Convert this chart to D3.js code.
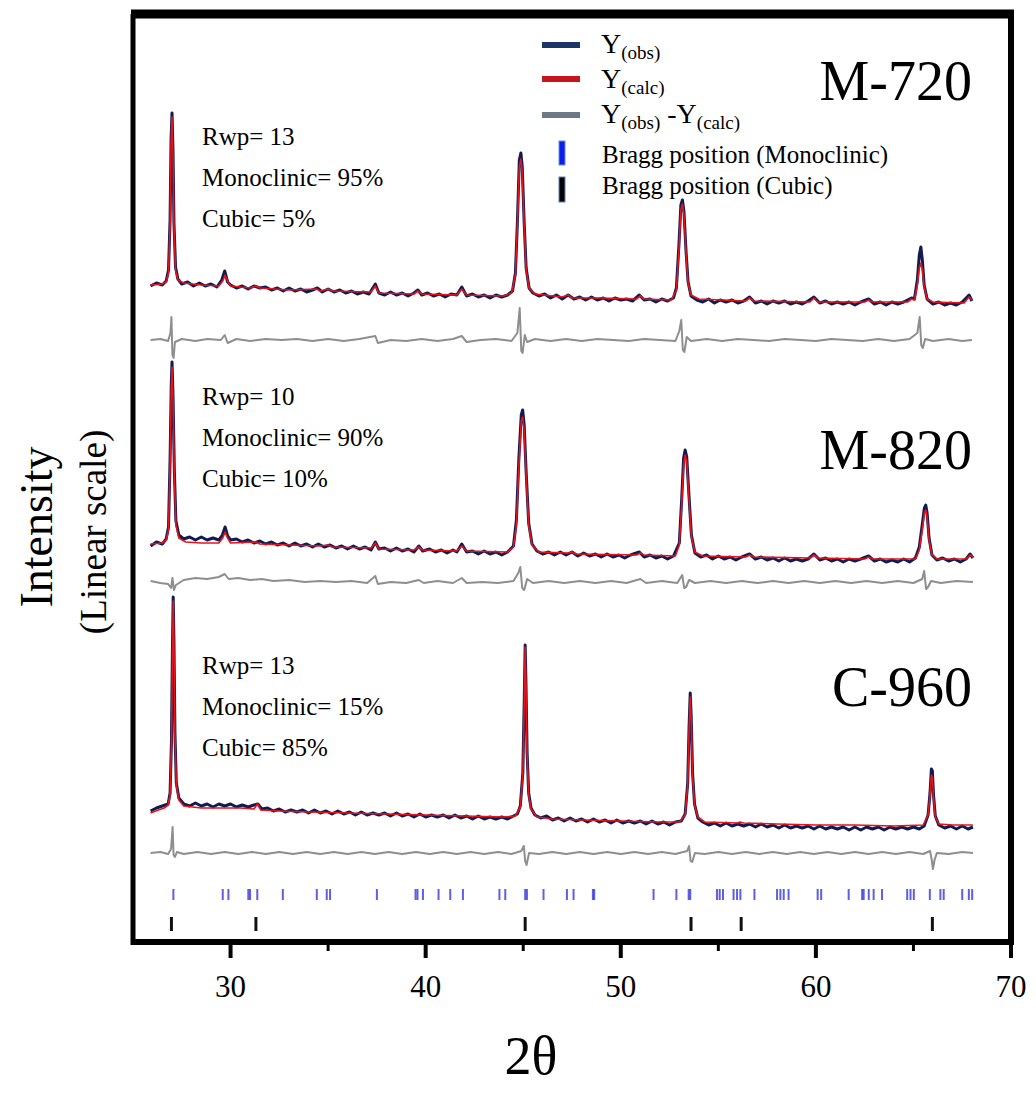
<!DOCTYPE html>
<html>
<head>
<meta charset="utf-8">
<script src="https://cdn.jsdelivr.net/npm/d3@7"></script>
<style>
  body { margin: 0; background: #fff; }
  svg text { font-family: 'Liberation Serif', 'Times New Roman', serif; fill: #000; }
</style>
</head>
<body>
<script>
// pattern values are stacked intensities (a.u.)
const obsM720 = [[25.9,659],[26.2,662],[26.5,660],[26.7,664],[26.82,675],[26.9,725],[26.95,805],[27.0,832],[27.05,795],[27.1,722],[27.18,678],[27.3,666],[27.5,661],[27.8,663],[28.1,659],[28.4,662],[28.7,659],[29.0,661],[29.3,658],[29.55,665],[29.7,674],[29.85,663],[30.0,660],[30.3,657],[30.6,659],[30.9,656],[31.2,659],[31.5,657],[31.8,658],[32.1,655],[32.4,657],[32.7,654],[33.0,657],[33.3,654],[33.6,656],[33.9,653],[34.2,655],[34.45,657],[34.7,653],[35.0,656],[35.3,653],[35.6,655],[35.9,652],[36.2,654],[36.5,651],[36.8,653],[37.1,651],[37.42,661],[37.6,652],[37.9,650],[38.2,653],[38.5,650],[38.8,652],[39.1,649],[39.4,652],[39.6,655],[39.8,650],[40.1,652],[40.4,649],[40.7,651],[41.0,648],[41.3,651],[41.6,650],[41.85,658],[42.1,649],[42.4,651],[42.7,648],[43.0,650],[43.3,647],[43.6,650],[43.9,648],[44.2,650],[44.45,654],[44.6,672],[44.7,722],[44.8,785],[44.88,792],[44.95,778],[45.05,722],[45.15,677],[45.3,657],[45.5,652],[45.8,649],[46.1,651],[46.4,647],[46.7,650],[47.0,646],[47.3,650],[47.6,646],[47.9,648],[48.2,645],[48.5,648],[48.8,645],[49.1,647],[49.4,644],[49.7,647],[50.0,645],[50.3,646],[50.6,644],[50.95,650],[51.2,645],[51.5,646],[51.8,643],[52.1,646],[52.4,644],[52.7,647],[52.85,657],[52.98,700],[53.08,740],[53.16,745],[53.24,733],[53.35,692],[53.45,663],[53.6,649],[53.9,645],[54.2,643],[54.5,646],[54.8,642],[55.1,645],[55.4,643],[55.7,645],[56.0,642],[56.3,644],[56.6,648],[56.9,642],[57.2,644],[57.5,641],[57.8,644],[58.1,642],[58.4,644],[58.7,641],[59.0,643],[59.3,641],[59.6,644],[59.9,648],[60.2,642],[60.5,644],[60.8,641],[61.1,643],[61.4,641],[61.7,643],[62.0,640],[62.3,643],[62.7,646],[63.0,641],[63.3,643],[63.6,640],[63.9,643],[64.2,641],[64.5,643],[64.9,647],[65.05,646],[65.2,665],[65.3,690],[65.38,698],[65.46,684],[65.55,660],[65.7,646],[66.0,641],[66.3,643],[66.6,640],[66.9,642],[67.2,640],[67.5,643],[67.85,650],[68.0,644]];
const calcM720 = [[25.9,660],[26.5,661],[26.7,663],[26.82,672],[26.9,720],[26.95,800],[27.0,828],[27.05,790],[27.1,720],[27.18,675],[27.3,665],[27.6,662],[28.5,660],[29.4,659],[29.6,664],[29.72,670],[29.85,664],[30.0,659],[31.0,657],[31.3,659],[31.5,657],[33.0,655],[34.4,656],[34.6,654],[35.0,656],[35.2,654],[37.2,653],[37.42,659],[37.6,652],[39.4,651],[39.6,654],[39.8,651],[41.6,650],[41.85,656],[42.1,650],[44.0,649],[44.4,652],[44.6,670],[44.7,720],[44.8,778],[44.88,786],[44.95,772],[45.05,720],[45.15,675],[45.3,657],[45.6,651],[47.0,648],[47.3,650],[47.5,647],[49.0,647],[50.8,646],[51.0,649],[51.2,646],[52.6,645],[52.85,655],[52.98,695],[53.08,735],[53.16,741],[53.24,730],[53.35,690],[53.45,662],[53.6,650],[54.0,646],[56.4,644],[56.6,647],[56.8,644],[59.7,643],[59.9,647],[60.1,643],[62.5,643],[62.7,645],[62.9,643],[64.7,643],[64.9,646],[65.05,645],[65.2,660],[65.3,677],[65.38,682],[65.46,675],[65.55,658],[65.7,646],[66.0,643],[67.6,642],[67.85,648],[68.0,645]];
const diffM720 = [[25.9,605],[26.4,606],[26.8,604],[26.92,612],[26.97,628],[27.02,590],[27.08,587],[27.15,603],[27.5,606],[28.2,604],[28.8,606],[29.5,605],[29.7,610],[29.85,602],[30.3,606],[31.0,604],[31.8,606],[32.6,605],[33.4,606],[34.2,604],[35.0,606],[35.8,604],[36.6,606],[37.42,609],[37.55,602],[38.2,605],[39.0,604],[39.8,606],[40.6,604],[41.4,606],[41.85,609],[42.1,603],[42.8,605],[43.6,606],[44.4,604],[44.7,612],[44.82,637],[44.9,594],[44.97,592],[45.08,610],[45.2,603],[45.6,606],[46.4,604],[47.2,606],[48.0,604],[48.8,606],[49.6,605],[50.4,604],[51.2,606],[52.0,605],[52.8,604],[53.0,614],[53.1,625],[53.18,595],[53.26,593],[53.38,608],[53.6,604],[54.4,606],[55.2,604],[56.0,606],[56.8,605],[57.6,604],[58.4,606],[59.2,605],[60.0,604],[60.8,606],[61.6,605],[62.4,604],[63.2,606],[64.0,604],[64.8,606],[65.2,612],[65.32,628],[65.4,600],[65.48,597],[65.6,606],[66.0,604],[66.8,606],[67.5,604],[68.0,605]];

const obsM820 = [[25.9,399],[26.2,403],[26.5,401],[26.7,406],[26.82,418],[26.9,485],[26.96,560],[27.0,583],[27.05,550],[27.12,474],[27.2,424],[27.35,410],[27.6,406],[27.9,408],[28.2,405],[28.5,408],[28.8,405],[29.1,407],[29.4,405],[29.58,410],[29.72,418],[29.85,409],[30.0,405],[30.3,406],[30.6,403],[30.9,405],[31.2,402],[31.5,404],[31.8,401],[32.1,403],[32.4,400],[32.7,402],[33.0,399],[33.3,402],[33.6,399],[33.9,401],[34.2,398],[34.5,401],[34.8,398],[35.1,400],[35.4,397],[35.7,399],[36.0,396],[36.3,399],[36.6,396],[36.9,398],[37.2,395],[37.42,403],[37.6,396],[37.9,397],[38.2,394],[38.5,397],[38.8,394],[39.1,396],[39.4,393],[39.65,399],[39.85,394],[40.2,396],[40.5,393],[40.8,395],[41.1,392],[41.4,395],[41.6,393],[41.85,401],[42.1,393],[42.4,394],[42.7,391],[43.0,394],[43.3,391],[43.6,393],[43.9,390],[44.2,393],[44.5,399],[44.65,425],[44.78,488],[44.9,530],[44.97,535],[45.05,520],[45.15,473],[45.28,422],[45.45,401],[45.7,394],[46.0,391],[46.3,393],[46.6,390],[46.9,393],[47.2,390],[47.5,393],[47.8,389],[48.1,392],[48.4,389],[48.7,391],[49.0,388],[49.3,391],[49.6,388],[49.9,390],[50.2,387],[50.5,390],[50.95,393],[51.2,388],[51.5,390],[51.8,387],[52.1,389],[52.4,386],[52.7,389],[53.0,402],[53.12,445],[53.22,487],[53.3,495],[53.38,488],[53.5,448],[53.62,410],[53.8,392],[54.1,388],[54.4,390],[54.7,386],[55.0,389],[55.3,386],[55.6,388],[55.9,385],[56.2,388],[56.6,391],[56.9,386],[57.2,388],[57.5,385],[57.8,387],[58.1,384],[58.4,387],[58.7,384],[59.0,386],[59.3,384],[59.6,386],[59.9,391],[60.2,385],[60.5,387],[60.8,384],[61.1,386],[61.4,383],[61.7,386],[62.0,384],[62.3,386],[62.7,389],[63.0,384],[63.3,386],[63.6,383],[63.9,385],[64.2,383],[64.5,386],[64.8,383],[65.1,387],[65.3,398],[65.45,420],[65.56,437],[65.63,440],[65.7,432],[65.8,407],[65.95,390],[66.2,385],[66.5,387],[66.8,384],[67.1,386],[67.4,383],[67.7,386],[67.9,391],[68.05,387]];
const calcM820 = [[25.9,401],[26.5,402],[26.7,405],[26.82,415],[26.9,480],[26.96,555],[27.0,578],[27.05,545],[27.12,470],[27.2,420],[27.35,407],[27.7,403],[28.5,402],[29.4,402],[29.6,407],[29.72,413],[29.85,407],[30.0,402],[31.3,403],[31.5,401],[33.0,400],[34.5,399],[35.0,400],[35.2,398],[37.2,397],[37.42,402],[37.6,396],[39.4,395],[39.65,398],[39.85,395],[41.6,394],[41.85,399],[42.1,394],[44.2,393],[44.5,398],[44.65,420],[44.78,480],[44.9,524],[44.97,528],[45.05,515],[45.15,470],[45.28,420],[45.45,400],[45.8,393],[47.3,392],[47.5,393],[47.7,391],[50.8,390],[51.0,392],[51.2,390],[52.8,389],[53.0,400],[53.12,440],[53.22,480],[53.3,490],[53.38,484],[53.5,445],[53.62,408],[53.8,393],[54.2,389],[56.4,388],[56.6,390],[56.8,388],[59.7,387],[59.9,390],[60.1,387],[62.5,386],[62.7,388],[62.9,386],[65.1,386],[65.3,395],[65.45,415],[65.56,432],[65.63,435],[65.7,428],[65.8,405],[65.95,390],[66.2,386],[67.7,386],[67.9,390],[68.05,388]];
const diffM820 = [[25.9,364],[26.4,362],[26.8,361],[26.95,357],[27.02,367],[27.1,355],[27.2,360],[27.6,365],[28.2,367],[28.8,366],[29.4,368],[29.7,371],[29.9,366],[30.4,367],[31.0,365],[31.6,366],[32.2,364],[33.0,365],[33.8,363],[34.6,364],[35.4,363],[36.2,364],[37.0,362],[37.42,369],[37.55,361],[38.2,363],[39.0,362],[39.65,365],[39.9,362],[40.6,364],[41.4,362],[41.85,367],[42.1,362],[42.9,363],[43.7,362],[44.5,364],[44.75,372],[44.85,378],[44.95,357],[45.05,355],[45.2,366],[45.5,362],[46.3,364],[47.1,362],[47.9,364],[48.7,362],[49.5,364],[50.3,362],[51.0,366],[51.3,362],[52.1,364],[52.9,362],[53.15,370],[53.25,357],[53.35,358],[53.5,365],[53.8,362],[54.6,364],[55.4,362],[56.2,364],[57.0,362],[57.8,364],[58.6,362],[59.4,364],[60.2,362],[61.0,364],[61.8,362],[62.6,364],[63.4,362],[64.2,364],[65.0,362],[65.45,366],[65.55,374],[65.65,356],[65.75,358],[65.9,364],[66.4,362],[67.2,364],[68.05,363]];

const obsC960 = [[25.9,134],[26.2,137],[26.5,139],[26.8,141],[26.9,152],[26.97,203],[27.02,295],[27.06,348],[27.1,302],[27.15,212],[27.22,162],[27.35,147],[27.6,141],[27.9,139],[28.2,142],[28.5,139],[28.8,141],[29.1,138],[29.4,141],[29.7,139],[30.0,141],[30.3,138],[30.6,140],[30.9,138],[31.2,140],[31.4,141],[31.6,136],[31.9,137],[32.2,134],[32.5,136],[32.8,133],[33.1,135],[33.4,133],[33.7,135],[34.0,132],[34.3,135],[34.6,132],[34.9,134],[35.2,131],[35.5,134],[35.8,131],[36.1,133],[36.4,130],[36.7,133],[37.0,130],[37.3,132],[37.6,130],[37.9,132],[38.2,129],[38.5,132],[38.8,129],[39.1,131],[39.4,128],[39.7,131],[40.0,128],[40.3,130],[40.6,128],[40.9,130],[41.2,127],[41.5,130],[41.8,127],[42.1,129],[42.4,126],[42.7,129],[43.0,126],[43.3,128],[43.6,126],[43.9,128],[44.2,126],[44.5,129],[44.7,131],[44.85,139],[44.98,172],[45.05,242],[45.1,300],[45.14,262],[45.2,192],[45.28,152],[45.4,137],[45.6,130],[45.9,127],[46.2,129],[46.5,125],[46.8,127],[47.1,124],[47.4,127],[47.7,124],[48.0,126],[48.3,123],[48.6,126],[48.9,123],[49.2,125],[49.5,122],[49.8,125],[50.1,122],[50.4,124],[50.7,122],[51.0,124],[51.3,121],[51.6,124],[51.9,121],[52.2,123],[52.5,120],[52.8,123],[53.1,124],[53.3,131],[53.43,162],[53.5,218],[53.56,252],[53.61,228],[53.68,172],[53.78,141],[53.95,127],[54.2,123],[54.5,120],[54.8,122],[55.1,119],[55.4,122],[55.7,119],[56.0,121],[56.3,119],[56.6,121],[56.9,118],[57.2,121],[57.5,118],[57.8,120],[58.1,117],[58.4,120],[58.7,117],[59.0,119],[59.3,117],[59.6,119],[59.9,116],[60.2,119],[60.5,116],[60.8,118],[61.1,116],[61.4,118],[61.7,115],[62.0,118],[62.3,115],[62.6,118],[62.9,116],[63.2,118],[63.5,115],[63.8,118],[64.1,116],[64.4,118],[64.7,116],[65.0,118],[65.3,116],[65.55,119],[65.75,130],[65.85,152],[65.92,176],[65.97,174],[66.03,150],[66.12,129],[66.3,120],[66.6,117],[66.9,119],[67.2,116],[67.5,119],[67.8,116],[68.05,118]];
const calcC960 = [[25.9,132],[26.3,135],[26.6,137],[26.8,140],[26.9,150],[26.97,200],[27.02,290],[27.06,344],[27.1,300],[27.15,210],[27.22,160],[27.35,145],[27.6,139],[28.5,137],[29.5,137],[30.5,137],[31.2,136],[31.38,141],[31.55,135],[32.5,134],[34.0,133],[36.0,132],[38.0,131],[40.0,130],[42.0,129],[44.0,128],[44.6,129],[44.85,138],[44.98,170],[45.05,240],[45.1,298],[45.14,260],[45.2,190],[45.28,150],[45.4,136],[45.7,128],[46.5,126],[48.0,125],[50.0,124],[52.0,123],[53.0,123],[53.3,130],[53.43,160],[53.5,215],[53.56,248],[53.61,225],[53.68,170],[53.78,140],[53.95,128],[54.3,123],[56.0,122],[56.1,123],[56.3,122],[58.0,121],[60.0,120],[62.0,120],[64.0,119],[65.5,120],[65.75,130],[65.85,150],[65.92,170],[65.97,168],[66.03,147],[66.12,128],[66.3,121],[67.0,120],[68.05,120]];
const diffC960 = [[25.9,92],[26.4,93],[26.8,91],[26.95,96],[27.03,118],[27.08,90],[27.15,88],[27.25,93],[27.6,91],[28.3,93],[29.0,91],[29.7,93],[30.4,91],[31.1,93],[31.8,91],[32.5,93],[33.2,91],[33.9,93],[34.6,91],[35.3,93],[36.0,91],[36.7,93],[37.4,91],[38.1,93],[38.8,91],[39.5,93],[40.2,91],[40.9,93],[41.6,91],[42.3,93],[43.0,91],[43.7,93],[44.4,91],[44.9,94],[45.03,99],[45.1,84],[45.17,80],[45.3,92],[45.8,91],[46.5,93],[47.2,91],[47.9,93],[48.6,91],[49.3,93],[50.0,91],[50.7,93],[51.4,91],[52.1,93],[52.8,91],[53.4,94],[53.5,99],[53.58,84],[53.66,83],[53.8,92],[54.3,91],[55.0,93],[55.7,91],[56.4,93],[57.1,91],[57.8,93],[58.5,91],[59.2,93],[59.9,91],[60.6,93],[61.3,91],[62.0,93],[62.7,91],[63.4,93],[64.1,91],[64.8,93],[65.5,91],[65.85,94],[65.93,86],[66.0,76],[66.08,85],[66.2,92],[66.8,91],[67.5,93],[68.05,92]];

// Bragg reflections (2theta)
const braggMono = [27.07,29.6,29.89,30.91,31.0,31.37,32.68,34.42,34.93,35.1,37.5,39.48,39.58,39.86,40.66,41.26,41.91,43.78,44.08,45.1,45.19,46.04,47.24,47.58,48.57,48.64,51.68,52.85,53.48,53.56,54.93,55.07,55.24,55.78,55.96,56.13,56.85,58.01,58.18,58.35,58.6,60.09,60.27,61.68,62.37,62.45,62.71,62.96,63.39,64.68,64.85,65.02,65.84,66.38,66.55,67.5,67.84,68.01];
const braggCubic = [26.97,31.3,45.1,53.6,56.17,65.97];

const xMajorTicks = [30, 40, 50, 60, 70];
const xMinorTicks = [35, 45, 55, 65];

const sampleNames = ['M-720', 'M-820', 'C-960'];
const rwpValues = [13, 10, 13];
const monoclinicPct = [95, 90, 15];
const cubicPct = [5, 10, 85];

const patterns = [
  {obs: obsM720, calc: calcM720, diff: diffM720},
  {obs: obsM820, calc: calcM820, diff: diffM820},
  {obs: obsC960, calc: calcC960, diff: diffC960},
];

const svg = d3
  .select('body')
  .append('svg')
  .attr('width', 1036)
  .attr('height', 1094);

const frame = {left: 133, right: 1011, top: 14, bottom: 942};

const x = d3.scaleLinear().domain([25, 70]).range([frame.left, frame.right]);
const y = d3.scaleLinear().domain([0, 933]).range([945, 12]);

const line = d3
  .line()
  .x(d => x(d[0]))
  .y(d => y(d[1]));

// curves
patterns.forEach(function(p) {
  svg.append('path')
    .attr('d', line(p.diff))
    .attr('fill', 'none')
    .attr('stroke', '#8e8e8e')
    .attr('stroke-width', 2)
    .attr('stroke-linejoin', 'round');
  svg.append('path')
    .attr('d', line(p.obs))
    .attr('fill', 'none')
    .attr('stroke', '#131a4f')
    .attr('stroke-width', 3)
    .attr('stroke-linejoin', 'round');
  svg.append('path')
    .attr('d', line(p.calc))
    .attr('fill', 'none')
    .attr('stroke', '#e3141c')
    .attr('stroke-width', 1.6)
    .attr('stroke-linejoin', 'round');
});

// bragg ticks
svg.append('g')
  .selectAll('line')
  .data(braggMono)
  .enter()
  .append('line')
  .attr('x1', d => x(d))
  .attr('x2', d => x(d))
  .attr('y1', 889)
  .attr('y2', 900)
  .attr('stroke', '#2a2ad8')
  .attr('stroke-opacity', 0.75)
  .attr('stroke-width', 2);

svg.append('g')
  .selectAll('line')
  .data(braggCubic)
  .enter()
  .append('line')
  .attr('x1', d => x(d))
  .attr('x2', d => x(d))
  .attr('y1', 917)
  .attr('y2', 931)
  .attr('stroke', '#111')
  .attr('stroke-width', 3);

// frame
svg.append('line').attr('x1', frame.left - 2).attr('x2', frame.right + 3)
  .attr('y1', frame.top).attr('y2', frame.top)
  .attr('stroke', '#000').attr('stroke-width', 9);
svg.append('line').attr('x1', frame.left).attr('x2', frame.left)
  .attr('y1', frame.top).attr('y2', frame.bottom + 3)
  .attr('stroke', '#000').attr('stroke-width', 5);
svg.append('line').attr('x1', frame.right).attr('x2', frame.right)
  .attr('y1', frame.top).attr('y2', frame.bottom + 3)
  .attr('stroke', '#000').attr('stroke-width', 6);
svg.append('line').attr('x1', frame.left - 2).attr('x2', frame.right + 3)
  .attr('y1', frame.bottom).attr('y2', frame.bottom)
  .attr('stroke', '#000').attr('stroke-width', 6);

// x axis ticks
svg.append('g')
  .selectAll('line')
  .data(xMajorTicks)
  .enter()
  .append('line')
  .attr('x1', d => x(d))
  .attr('x2', d => x(d))
  .attr('y1', frame.bottom)
  .attr('y2', 958)
  .attr('stroke', '#000')
  .attr('stroke-width', 4);

svg.append('g')
  .selectAll('line')
  .data(xMinorTicks)
  .enter()
  .append('line')
  .attr('x1', d => x(d))
  .attr('x2', d => x(d))
  .attr('y1', frame.bottom)
  .attr('y2', 951)
  .attr('stroke', '#000')
  .attr('stroke-width', 3);

svg.append('g')
  .selectAll('text')
  .data(xMajorTicks)
  .enter()
  .append('text')
  .attr('x', d => x(d))
  .attr('y', 997)
  .attr('text-anchor', 'middle')
  .style('font-size', '31px')
  .text(d => d);

svg.append('text')
  .attr('x', 531)
  .attr('y', 1074)
  .attr('text-anchor', 'middle')
  .style('font-size', '54px')
  .text('2θ');

svg.append('text')
  .attr('transform', 'translate(52,527) rotate(-90)')
  .attr('text-anchor', 'middle')
  .style('font-size', '46px')
  .text('Intensity');

svg.append('text')
  .attr('transform', 'translate(106,532) rotate(-90)')
  .attr('text-anchor', 'middle')
  .style('font-size', '37px')
  .text('(Linear scale)');

// sample labels and refinement numbers
const labelBase = [100, 469, 706];
const infoBase = [145, 405, 674];

sampleNames.forEach(function(name, i) {
  svg.append('text')
    .attr('x', 972)
    .attr('y', labelBase[i])
    .attr('text-anchor', 'end')
    .style('font-size', '56px')
    .text(name);

  const lines = [
    `Rwp= ${rwpValues[i]}`,
    `Monoclinic= ${monoclinicPct[i]}%`,
    `Cubic= ${cubicPct[i]}%`,
  ];
  lines.forEach(function(t, j) {
    svg.append('text')
      .attr('x', 202)
      .attr('y', infoBase[i] + j * 41)
      .style('font-size', '25px')
      .text(t);
  });
});

// legend
const legend = svg.append('g');

const legendLines = [
  {color: '#1b3567', y: 45},
  {color: '#c4161c', y: 79},
  {color: '#6c7884', y: 115},
];
legend.selectAll('line')
  .data(legendLines)
  .enter()
  .append('line')
  .attr('x1', 542)
  .attr('x2', 580)
  .attr('y1', d => d.y)
  .attr('y2', d => d.y)
  .attr('stroke', d => d.color)
  .attr('stroke-width', 6);

function subLabel(xPos, yPos, parts) {
  const t = legend.append('text').attr('x', xPos).attr('y', yPos);
  parts.forEach(function(p) {
    t.append('tspan')
      .attr('dy', p.sub ? 6 : (p.back ? -6 : 0))
      .style('font-size', p.sub ? '19px' : '28px')
      .text(p.t);
  });
}

subLabel(601, 53, [{t: 'Y'}, {t: '(obs)', sub: true}]);
subLabel(601, 88, [{t: 'Y'}, {t: '(calc)', sub: true}]);
subLabel(601, 123, [
  {t: 'Y'}, {t: '(obs)', sub: true}, {t: ' -Y', back: true}, {t: '(calc)', sub: true},
]);

legend.append('rect')
  .attr('x', 559).attr('y', 141).attr('width', 6).attr('height', 24)
  .attr('fill', '#0a1ef0').attr('stroke', '#6a8fd0').attr('stroke-width', 1);
legend.append('rect')
  .attr('x', 559).attr('y', 177).attr('width', 6).attr('height', 25)
  .attr('fill', '#050505').attr('stroke', '#5f86b8').attr('stroke-width', 1);

legend.append('text')
  .attr('x', 602).attr('y', 163)
  .style('font-size', '25px')
  .text('Bragg position (Monoclinic)');
legend.append('text')
  .attr('x', 602).attr('y', 194)
  .style('font-size', '25px')
  .text('Bragg position (Cubic)');
</script>
</body>
</html>
